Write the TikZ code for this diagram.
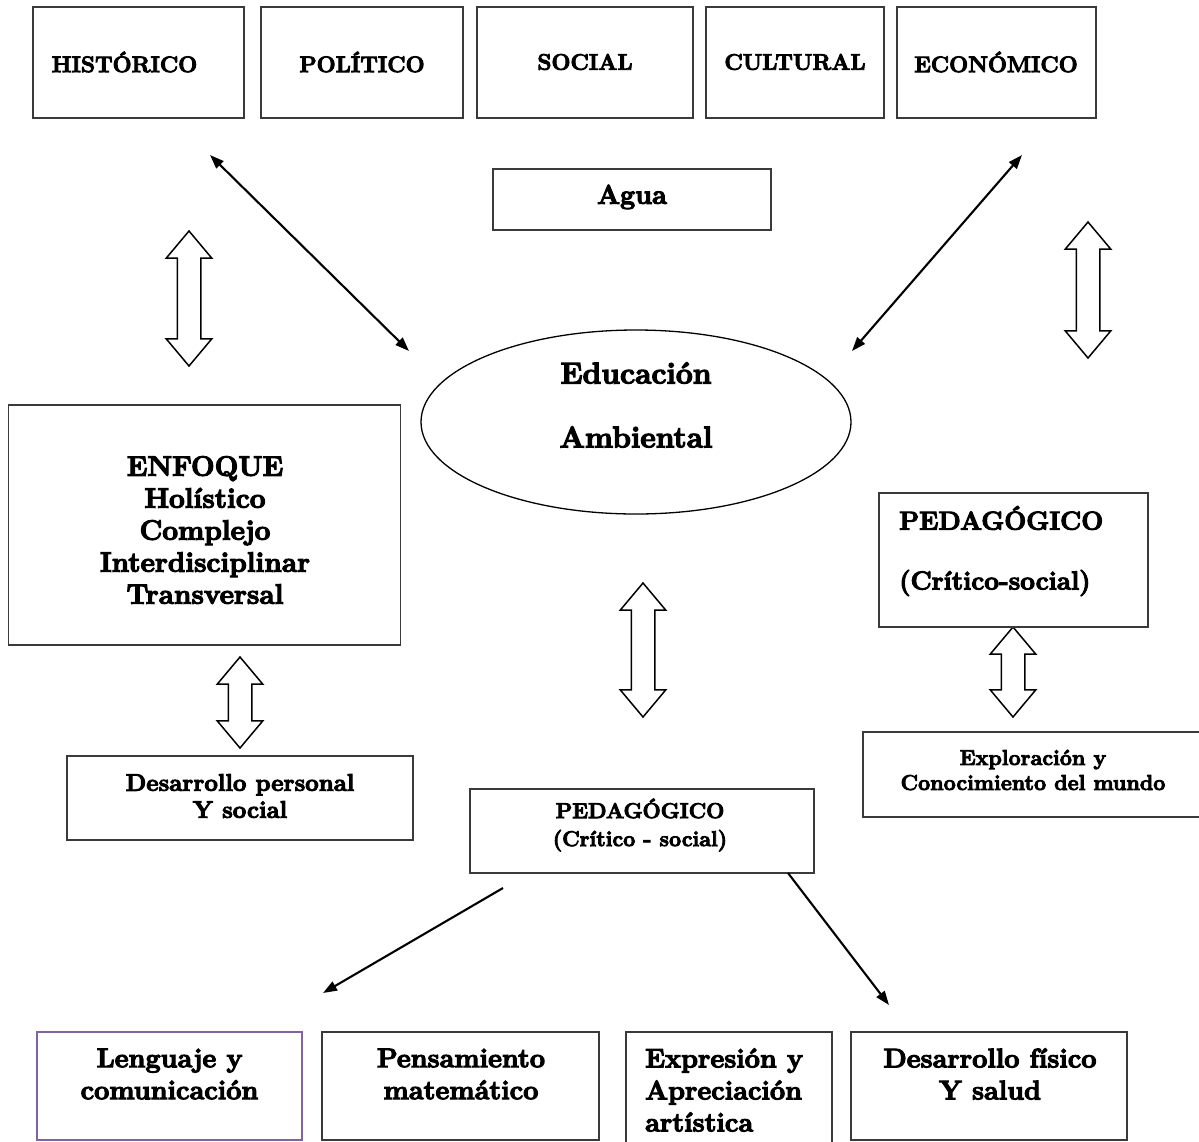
\documentclass[tikz,border=0pt]{standalone}
\usepackage{fontspec}
\setmainfont{Latin Modern Roman}[BoldFeatures={FakeBold=4}]
\usetikzlibrary{shapes.geometric,shapes.arrows,arrows.meta}
\definecolor{boxline}{HTML}{3A3A3A}
\definecolor{purpleline}{HTML}{8064A2}
\tikzset{
  box/.style={draw=boxline, line width=1.3pt, rectangle, inner sep=0pt},
  lbl/.style={font=\bfseries, inner sep=0pt, align=center},
  hollow/.style={draw=black, line width=1.5pt, fill=white, double arrow, rotate=90,
    minimum width=44pt, double arrow head extend=11pt, double arrow tip angle=80,
    inner xsep=0pt, inner ysep=11pt},
  conn/.style={line width=2.1pt, black},
  tip/.style={-{Triangle[length=14pt,width=10pt]}},
  tips/.style={{Triangle[length=14pt,width=10pt]}-{Triangle[length=14pt,width=10pt]}}
}
\newcommand{\fs}[2]{\fontsize{#1}{#2}\selectfont}
\begin{document}
\begin{tikzpicture}[x=1pt,y=-1pt]
\useasboundingbox (0,0) rectangle (1199,1141);
% top boxes
\node[box, minimum width=211pt, minimum height=111pt] (hist) at (138.5,62.5) {};
\node[lbl, font=\bfseries\fs{22.5}{26}] (histT) at (124.5,62) {HISTÓRICO};
\node[box, minimum width=202pt, minimum height=111pt] (pol) at (362,62.5) {};
\node[lbl, font=\bfseries\fs{22.5}{26}] (polT) at (362,62) {POLÍTICO};
\node[box, minimum width=216pt, minimum height=111pt] (soc) at (585,62.5) {};
\node[lbl, font=\bfseries\fs{22.5}{26}] (socT) at (585,62) {SOCIAL};
\node[box, minimum width=178pt, minimum height=111pt] (cul) at (795,62.5) {};
\node[lbl, font=\bfseries\fs{22.5}{26}] (culT) at (795,62) {CULTURAL};
\node[box, minimum width=199pt, minimum height=111pt] (eco) at (996.5,62.5) {};
\node[lbl, font=\bfseries\fs{22.5}{26}] (ecoT) at (996,62) {ECONÓMICO};
% agua
\node[box, minimum width=278pt, minimum height=61pt] (agua) at (632,199.5) {};
\node[lbl, font=\bfseries\fs{27}{30}] (aguaT) at (632,197) {Agua};
% ellipse
\node[draw=black, line width=1.3pt, ellipse, minimum width=430pt, minimum height=184pt, inner sep=0pt] (edu) at (636,422) {};
\node[lbl, font=\bfseries\fs{30}{32}] (eduT1) at (636,373) {Educación};
\node[lbl, font=\bfseries\fs{30}{32}] (eduT2) at (636,437) {Ambiental};
% diagonal connectors
\coordinate (ul) at (210,155);
\coordinate (ur) at (1022,155);
\coordinate (el) at (409,351);
\coordinate (er) at (852,351);
\draw[conn, tips] (ul) -- (el);
\draw[conn, tips] (ur) -- (er);
% hollow arrows
\node[hollow, minimum height=135pt] (h1) at (189,298.5) {};
\node[hollow, minimum height=136pt] (h2) at (1088,290) {};
\node[hollow, minimum height=134pt] (h3) at (643,650) {};
\node[hollow, minimum height=90pt] (h4) at (1013,672) {};
\node[hollow, minimum height=91pt] (h5) at (240,702.5) {};
% enfoque
\node[box, minimum width=392pt, minimum height=240pt] (enf) at (204.5,525) {};
\node[lbl, font=\bfseries\fs{28}{32}] (enfT) at (205,530) {ENFOQUE\\Holístico\\Complejo\\Interdisciplinar\\Transversal};
% pedagogico right
\node[box, minimum width=269pt, minimum height=134pt] (pedR) at (1013.5,560) {};
\node[lbl, font=\bfseries\fs{26}{28}, anchor=west] (pedRT1) at (899,518) {PEDAGÓGICO};
\node[lbl, font=\bfseries\fs{26}{28}, anchor=west] (pedRT2) at (899,583) {(Crítico-social)};
% exploracion
\node[box, minimum width=345pt, minimum height=85pt] (exp) at (1035.5,774.5) {};
\node[lbl, font=\bfseries\fs{21.5}{25}] (expT) at (1033,770) {Exploración y\\Conocimiento del mundo};
% desarrollo personal
\node[box, minimum width=346pt, minimum height=84pt] (des) at (240,798) {};
\node[lbl, font=\bfseries\fs{24}{27}] (desT) at (240,796) {Desarrollo personal\\Y social};
% pedagogico centre
\node[box, minimum width=344pt, minimum height=84pt] (pedC) at (642,831) {};
\node[lbl, font=\bfseries\fs{21.5}{28}] (pedCT) at (640,825) {PEDAGÓGICO\\(Crítico - social)};
% bottom boxes
\node[draw=purpleline, line width=1.3pt, rectangle, inner sep=0pt, minimum width=265pt, minimum height=108pt] (len) at (169.5,1086) {};
\node[lbl, font=\bfseries\fs{27}{32}] (lenT) at (169.5,1074) {Lenguaje y\\comunicación};
\node[box, minimum width=277pt, minimum height=108pt] (pen) at (460.5,1086) {};
\node[lbl, font=\bfseries\fs{27}{32}] (penT) at (461,1074) {Pensamiento\\matemático};
\node[box, minimum width=206pt, minimum height=112pt] (exr) at (729,1088) {};
\node[lbl, font=\bfseries\fs{27}{32}, align=left, anchor=west] (exrT) at (645,1090) {Expresión y\\Apreciación\\artística};
\node[box, minimum width=276pt, minimum height=108pt] (dfs) at (989,1086) {};
\node[lbl, font=\bfseries\fs{27}{32}] (dfsT) at (990,1074) {Desarrollo físico\\Y salud};
% arrows from pedagogico
\coordinate (pa) at (503,888);
\coordinate (pb) at (323,993);
\coordinate (pc) at (788,873);
\coordinate (pd) at (889,1005);
\draw[conn, tip] (pa) -- (pb);
\draw[conn, tip] (pc) -- (pd);
\end{tikzpicture}
\end{document}
